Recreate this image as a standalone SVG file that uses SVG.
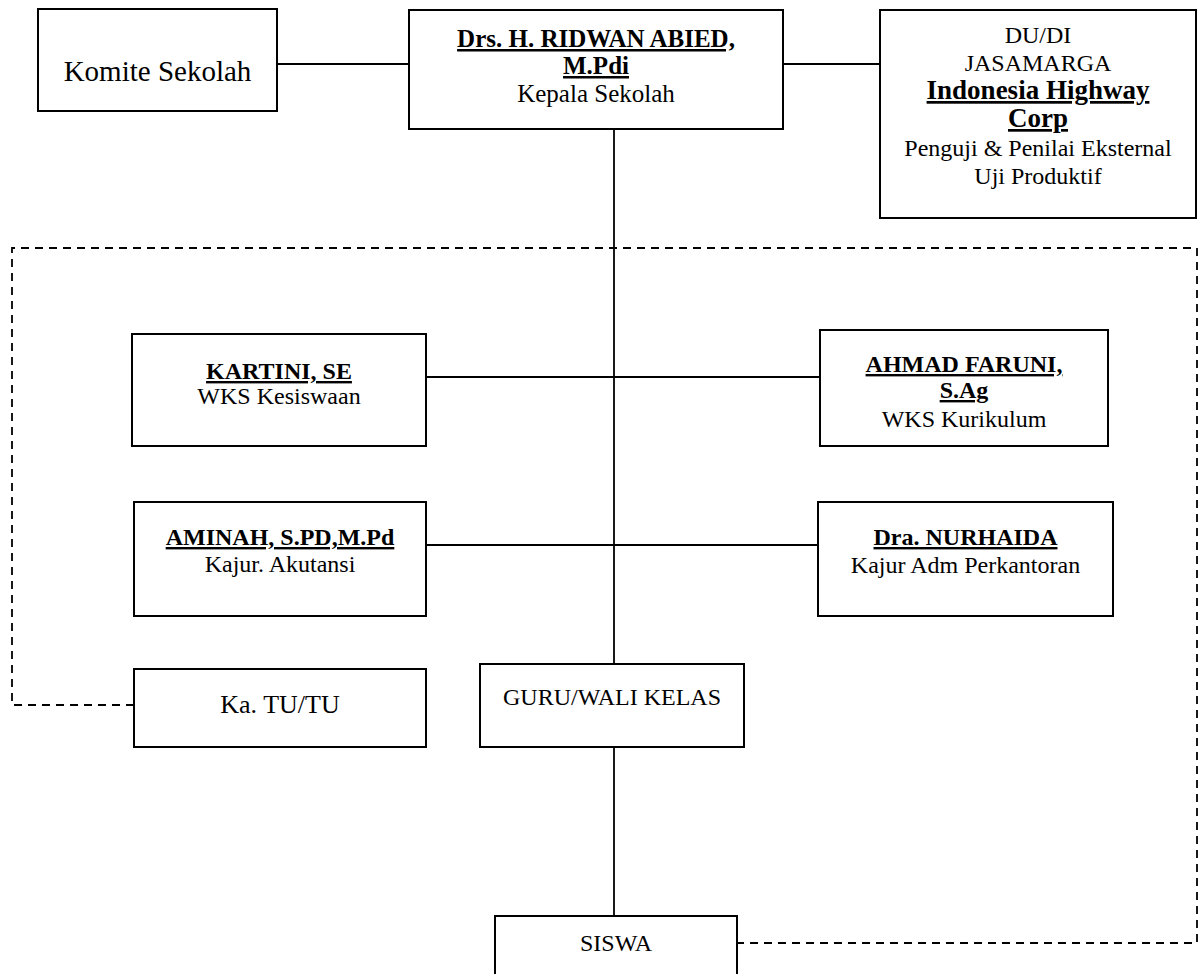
<svg xmlns="http://www.w3.org/2000/svg" width="1203" height="974" viewBox="0 0 1203 974">
<style>
  .box { fill: #fff; stroke: #000; stroke-width: 2; }
  .line { stroke: #000; stroke-width: 1.8; fill: none; }
  .dash { stroke: #000; stroke-width: 1.8; fill: none; stroke-dasharray: 8 6; }
  text { font-family: "Liberation Serif", "Times New Roman", serif; fill: #000; text-anchor: middle; }
  .r { font-size: 24px; }
  .b { font-size: 24px; font-weight: bold; text-decoration: underline; }
</style>
<rect width="1203" height="974" fill="#fff"/>
<g id="connectors">
  <line class="line" x1="277" y1="64" x2="409" y2="64"/>
  <line class="line" x1="783" y1="64" x2="880" y2="64"/>
  <line class="line" x1="614" y1="129" x2="614" y2="664"/>
  <line class="line" x1="426" y1="377" x2="820" y2="377"/>
  <line class="line" x1="426" y1="545" x2="818" y2="545"/>
  <line class="line" x1="614" y1="747" x2="614" y2="916"/>
  <path class="dash" d="M134 705 H12 V248 H1197 V943 H737"/>
</g>
<g id="komite">
  <rect class="box" x="38" y="9" width="239" height="102"/>
  <text x="157.5" y="81" style="font-size:29px">Komite Sekolah</text>
</g>
<g id="kepala">
  <rect class="box" x="409" y="10" width="374" height="119"/>
  <text x="596" y="47" class="b" style="font-size:25px">Drs. H. RIDWAN ABIED,</text>
  <text x="596" y="74" class="b" style="font-size:25px">M.Pdi</text>
  <text x="596" y="102" class="r" style="font-size:25px">Kepala Sekolah</text>
</g>
<g id="dudi">
  <rect class="box" x="880" y="10" width="316" height="208"/>
  <text x="1038" y="43" class="r">DU/DI</text>
  <text x="1038" y="71" class="r">JASAMARGA</text>
  <text x="1038" y="99" class="b" style="font-size:27px">Indonesia Highway</text>
  <text x="1038" y="127" class="b" style="font-size:27px">Corp</text>
  <text x="1038" y="156" class="r">Penguji &amp; Penilai Eksternal</text>
  <text x="1038" y="184" class="r">Uji Produktif</text>
</g>
<g id="kartini">
  <rect class="box" x="132" y="334" width="294" height="112"/>
  <text x="279" y="379" class="b">KARTINI, SE</text>
  <text x="279" y="404" class="r">WKS Kesiswaan</text>
</g>
<g id="ahmad">
  <rect class="box" x="820" y="330" width="288" height="116"/>
  <text x="964" y="372" class="b">AHMAD FARUNI,</text>
  <text x="964" y="398" class="b">S.Ag</text>
  <text x="964" y="427" class="r">WKS Kurikulum</text>
</g>
<g id="aminah">
  <rect class="box" x="134" y="502" width="292" height="114"/>
  <text x="280" y="545" class="b">AMINAH, S.PD,M.Pd</text>
  <text x="280" y="572" class="r">Kajur. Akutansi</text>
</g>
<g id="nurhaida">
  <rect class="box" x="818" y="502" width="295" height="114"/>
  <text x="965.5" y="545" class="b">Dra. NURHAIDA</text>
  <text x="965.5" y="573" class="r">Kajur Adm Perkantoran</text>
</g>
<g id="katu">
  <rect class="box" x="134" y="669" width="292" height="78"/>
  <text x="280" y="713" style="font-size:26px">Ka. TU/TU</text>
</g>
<g id="guru">
  <rect class="box" x="480" y="664" width="264" height="83"/>
  <text x="612" y="705" style="font-size:24px">GURU/WALI KELAS</text>
</g>
<g id="siswa">
  <rect class="box" x="495" y="916" width="242" height="70"/>
  <text x="616" y="951" style="font-size:24px">SISWA</text>
</g>
</svg>
